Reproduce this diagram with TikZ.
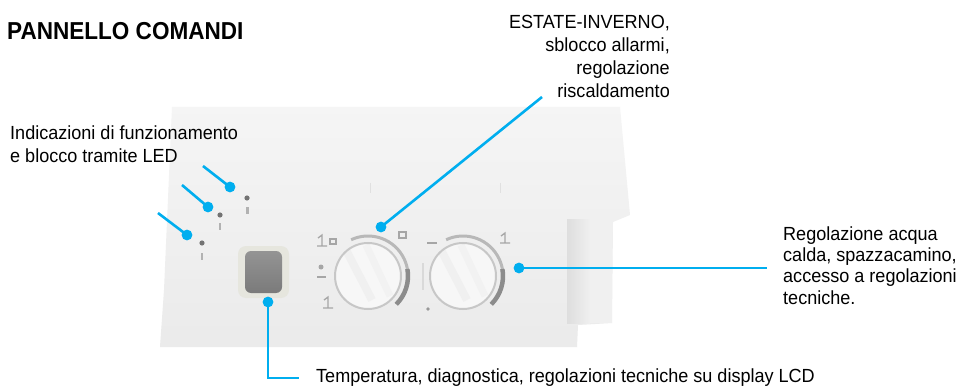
\documentclass[tikz,border=0pt]{standalone}
\usepackage{fontspec}
\setmainfont[FakeStretch=0.95]{Liberation Sans}
\newfontfamily\titlefont[FakeStretch=0.92]{Liberation Sans}
\definecolor{callblue}{RGB}{0,174,239}
\definecolor{bezel}{RGB}{230,230,222}
\begin{document}
\begin{tikzpicture}[x=1pt,y=-1pt,
    callout/.style={draw=callblue,line width=2.6pt},
    tipdot/.style={fill=callblue},
    txt/.style={inner sep=0pt,font=\fontsize{19}{23}\selectfont},
    iconline/.style={draw=black!35,line width=1.3pt},
    ledmark/.style={fill=black!55}]
  \useasboundingbox[fill=white] (0,0) rectangle (968,387);

  % panel body
  \shade[top color=black!4,bottom color=black!8]
    (172,107) -- (620,107) -- (630,215) -- (613,222) -- (612,323)
    -- (578,325) -- (577,347) -- (160,347) -- (164,290) -- cycle;
  \shade[left color=black!13,right color=black!6] (567,220) rectangle (590,323);
  \fill[black!6] (590,220) rectangle (612,323);
  \draw[black!12,line width=1pt] (370,183) -- (370,193);
  \draw[black!12,line width=1pt] (500,183) -- (500,193);

  % LEDs
  \fill[ledmark] (202,243) circle (2.6);
  \fill[black!30] (201,253) rectangle (203,260);
  \fill[ledmark] (220,215) circle (2.6);
  \fill[black!30] (219,223) rectangle (221,230);
  \fill[ledmark] (247,198) circle (2.6);
  \fill[black!30] (246,207) rectangle (249,214);

  % display
  \fill[bezel,rounded corners=8pt] (238,246) rectangle (289,298);
  \shade[top color=black!42,bottom color=black!52,rounded corners=6pt]
    (245,251) rectangle (282,293);

  % knobs
  \def\knobr{33}
  \def\arcr{40}
  \foreach \kx in {368,463} {
    \draw[black!28,line width=3pt] (\kx,276) ++(-115:\arcr) arc (-115:45:\arcr);
    \draw[black!45,line width=4.5pt] (\kx,276) ++(-10:\arcr) arc (-10:45:\arcr);
    \fill[black!3] (\kx,276) circle (\knobr);
    \begin{scope}
      \clip (\kx,276) circle (\knobr);
      \draw[black!6,line width=8pt] (\kx-22,250) -- (\kx+4,300);
      \draw[black!5,line width=7pt] (\kx-2,245) -- (\kx+22,296);
    \end{scope}
    \draw[black!22,line width=2pt] (\kx,276) circle (\knobr);
  }

  % knob icons
  \draw[iconline] (318,238) -- (322,235) -- (322,246) (317,246) -- (327,246);
  \draw[iconline] (330,239) rectangle (336,244);
  \draw[iconline] (399,232) rectangle (406,238);
  \fill[black!35] (321,267) circle (2.5);
  \draw[iconline] (317,277) -- (326,277);
  \draw[iconline] (324,300) -- (328,297) -- (328,308) (323,308) -- (333,308);
  \draw[iconline] (427,243) -- (437,243);
  \draw[iconline] (501,236) -- (505,233) -- (505,243) (500,243) -- (510,243);
  \draw[black!15,line width=1.5pt] (423,263) -- (423,290);
  \fill[black!40] (428,309) circle (1.8);

  % texts
  \node[txt,anchor=base west,font=\fontsize{24.5}{28}\titlefont\bfseries] (title) at (7,39.5) {PANNELLO COMANDI};
  \node[txt,anchor=base west,align=left,font=\fontsize{19}{23.4}\selectfont] (leds) at (10,162.7)
    {Indicazioni di funzionamento\\e blocco tramite LED};
  \node[txt,anchor=base east,align=right] (season) at (670,97.3)
    {ESTATE-INVERNO,\\sblocco allarmi,\\regolazione\\riscaldamento};
  \node[txt,anchor=base west,align=left,font=\fontsize{19}{21.3}\selectfont] (water) at (783,304)
    {Regolazione acqua\\calda, spazzacamino,\\accesso a regolazioni\\tecniche.};
  \node[txt,anchor=base west] (lcd) at (316,382)
    {Temperatura, diagnostica, regolazioni tecniche su display LCD};

  % callouts
  \coordinate (ledA) at (187,235);
  \coordinate (ledAend) at (158,213);
  \coordinate (ledB) at (208,207);
  \coordinate (ledBend) at (182,185);
  \coordinate (ledC) at (230,187);
  \coordinate (ledCend) at (203,166);
  \coordinate (knobA) at (381,227);
  \coordinate (seasonend) at (542,97);
  \coordinate (knobB) at (519,268);
  \coordinate (waterend) at (767,268);
  \coordinate (screen) at (268,302);
  \coordinate (lcdend) at (299,378);
  \draw[callout] (ledAend) -- (ledA);
  \draw[callout] (ledBend) -- (ledB);
  \draw[callout] (ledCend) -- (ledC);
  \draw[callout] (seasonend) -- (knobA);
  \draw[callout] (knobB) -- (waterend);
  \draw[callout] (screen) |- (lcdend);
  \foreach \p in {ledA,ledB,ledC,knobA,knobB,screen}
    \fill[tipdot] (\p) circle (5.4);
\end{tikzpicture}
\end{document}
